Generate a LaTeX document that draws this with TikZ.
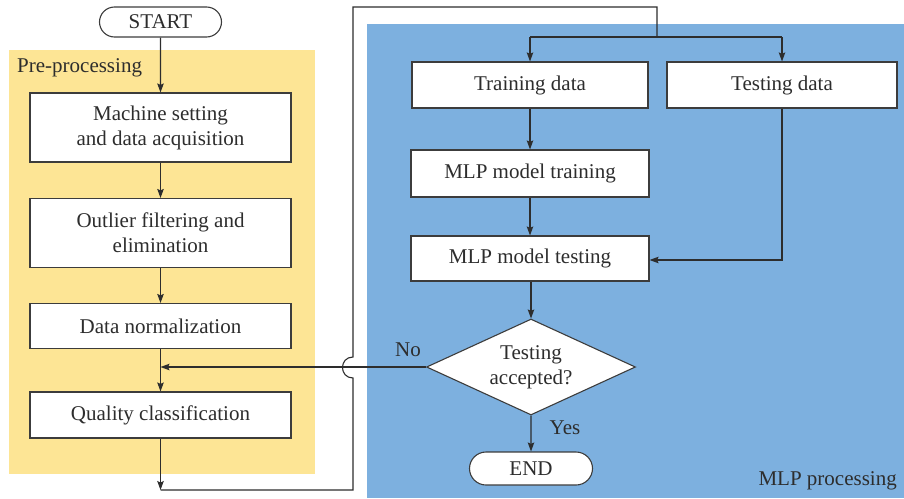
\documentclass[tikz,border=0pt]{standalone}
\usepackage{fontspec}
\setmainfont{Liberation Serif}
\usetikzlibrary{arrows.meta,shapes.geometric,shapes.misc}
\definecolor{preyellow}{RGB}{253,229,149}
\definecolor{mlpblue}{RGB}{125,176,223}
\definecolor{linegray}{RGB}{45,45,45}
\definecolor{framegray}{RGB}{60,60,60}

\begin{document}
\begin{tikzpicture}[x=1pt,y=-1pt,
  every node/.style={font=\fontsize{21}{25}\selectfont, text=linegray},
  stepbox/.style={rectangle, draw=framegray, line width=1.1pt, fill=white,
    inner sep=0pt, align=center},
  terminal/.style={rounded rectangle, draw=framegray, line width=1.1pt,
    fill=white, inner sep=0pt},
  decision/.style={diamond, shape aspect=2.18, draw=framegray, line width=1.1pt,
    fill=white, inner sep=0pt, align=center},
  link/.style={draw=linegray, line width=1.1pt},
  arrowlink/.style={link, -{Stealth[length=9pt,width=6.5pt,inset=1.5pt]}},
  tag/.style={inner sep=0pt}
]
\useasboundingbox (0,0) rectangle (904,498);

% stage backgrounds
\fill[preyellow] (9,50) rectangle (315,474);
\fill[mlpblue] (367,24) rectangle (904,498);
\node[tag, anchor=west] (prelabel) at (17,68) {Pre-processing};
\node[tag, anchor=east] (mlplabel) at (897,481) {MLP processing};

% pre-processing chain
\node[terminal, minimum width=122pt, minimum height=30pt] (start) at (160.5,22) {START};
\node[stepbox, minimum width=261pt, minimum height=69pt] (acq) at (160.5,127.5)
  {Machine setting\\and data acquisition};
\node[stepbox, minimum width=261pt, minimum height=69pt] (outlier) at (160.5,233)
  {Outlier filtering and\\elimination};
\node[stepbox, minimum width=261pt, minimum height=45pt] (norm) at (160.5,326)
  {Data normalization};
\node[stepbox, minimum width=261pt, minimum height=46pt] (quality) at (160.5,415)
  {Quality classification};

% MLP processing chain
\node[stepbox, minimum width=236pt, minimum height=46pt] (train) at (530,85) {Training data};
\node[stepbox, minimum width=230pt, minimum height=46pt] (test) at (782,85) {Testing data};
\node[stepbox, minimum width=238pt, minimum height=47pt] (mlptrain) at (530,173.5) {MLP model training};
\node[stepbox, minimum width=238pt, minimum height=45pt] (mlptest) at (530,258.5) {MLP model testing};
\node[decision, minimum width=209pt, minimum height=96pt] (accept) at (531,367)
  {Testing\\accepted?};
\node[terminal, minimum width=123pt, minimum height=33pt] (finish) at (531,468.5) {END};

% routing points
\coordinate (qdown) at (160.5,490);
\coordinate (loopbl) at (353,490);
\coordinate (hoplow) at (353,378);
\coordinate (hophigh) at (353,357);
\coordinate (looptl) at (353,7);
\coordinate (looptr) at (657,7);
\coordinate (split) at (657,37);
\coordinate (splitl) at (530,37);
\coordinate (splitr) at (782,37);
\coordinate (rejoin) at (160.5,367);

% connectors
\draw[arrowlink] (start) -- (acq);
\draw[arrowlink] (acq) -- (outlier);
\draw[arrowlink] (outlier) -- (norm);
\draw[arrowlink] (norm) -- (quality);
\draw[arrowlink] (quality.south) -- (qdown);
\draw[link] (qdown) -- (loopbl) -- (hoplow)
  .. controls (339,378) and (339,357) .. (hophigh)
  -- (looptl) -- (looptr) -- (split);
\draw[link] (splitl) -- (splitr);
\draw[arrowlink] (splitl) -- (train);
\draw[arrowlink] (splitr) -- (test);
\draw[arrowlink] (train) -- (mlptrain);
\draw[arrowlink] (mlptrain) -- (mlptest);
\draw[arrowlink] (test.south) |- ([yshift=-1.5pt]mlptest.east);
\draw[arrowlink] (mlptest.south -| accept) -- (accept);
\draw[arrowlink] (accept) -- (finish);
\draw[arrowlink] (accept.west) -- (rejoin);

\node[tag] (nolabel) at (408,350) {No};
\node[tag] (yeslabel) at (565,428) {Yes};
\end{tikzpicture}
\end{document}
